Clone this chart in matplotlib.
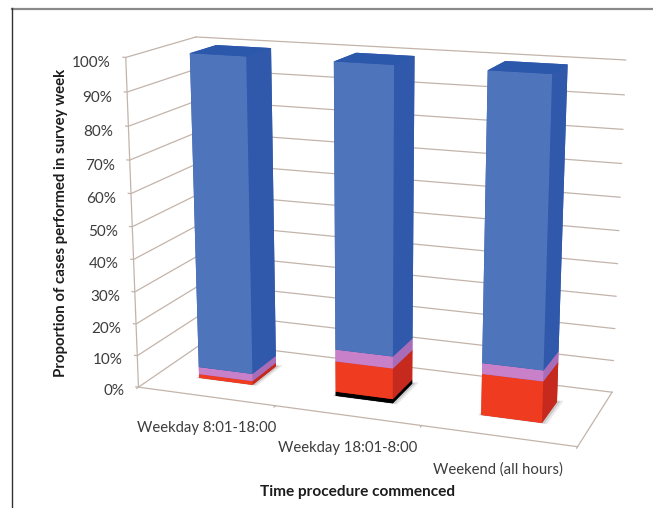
import numpy as np
import matplotlib
matplotlib.use("Agg")
import matplotlib.pyplot as plt
from mpl_toolkits.mplot3d import proj3d
from mpl_toolkits.mplot3d.art3d import Poly3DCollection

plt.rcParams['font.family'] = ['Lato', 'DejaVu Sans']

categories = ['Weekday 8:01-18:00', 'Weekday 18:01-8:00', 'Weekend (all hours)']
black_vals = [0, 1.3, 0]
red_vals = [1.2, 9.5, 12.5]
pink_vals = [2.3, 3.7, 3.3]
blue_vals = [96.5, 85.5, 84.2]
pct_ticks = [0, 10, 20, 30, 40, 50, 60, 70, 80, 90, 100]

W, H = 653, 508
GRID = '#c2b4ab'
TXT = '#3c3c3c'

# camera was fitted against the plot box corners of the reference
cx, cy, size = 366.69, 236.45, 577.34
fig = plt.figure(figsize=(W/100, H/100), dpi=100)
ax = fig.add_axes([(cx-size/2)/W, 1-(cy+size/2)/H, size/W, size/H], projection='3d')
ax.set_xlim(0, 3)
ax.set_ylim(0, 1)
ax.set_zlim(0, 100)
ax.set_box_aspect((3, 1.003, 2.2227))
ax.view_init(elev=14.70, azim=-69.91, roll=-0.05)
ax.set_proj_type('persp', focal_length=0.5149)
ax.set_xticks([])
ax.set_yticks([])
ax.set_zticks([])
ax.set_axis_off()
ax.patch.set_alpha(0)
ax.computed_zorder = False


def label_at(x, y, z, s, **kw):
    # place a flat label at a data position of the 3d box
    u, v, _ = proj3d.proj_transform(x, y, z, ax.get_proj())
    ax.text2D(u, v, s, transform=ax.transData, **kw)


# walls and floor lines
for v in pct_ticks:
    ax.plot([-0.02, 0, 0], [0, 0, 1], [v, v, v], color=GRID, lw=0.9, zorder=1)
    ax.plot([0, 3], [1, 1], [v, v], color=GRID, lw=0.9, zorder=1)
    label_at(-0.11, 0, v - 2.0, f'{v}%', ha='right', va='center', fontsize=11, color=TXT)
ax.plot([0, 0], [0, 0], [0, 100], color=GRID, lw=0.9, zorder=1)
ax.plot([0, 3, 3], [0, 0, 1], [0, 0, 0], color=GRID, lw=0.9, zorder=1)
for i in range(4):
    ax.plot([i, i], [0, -0.025], [0, 0], color=GRID, lw=0.9, zorder=1)

bar_w = 0.3994
bar_d = 0.3923
x0 = np.arange(3) + 0.5 - bar_w/2
y0 = 0.5 - bar_d/2

# soft shadow on the floor round each bar
for x in x0:
    for grow, alpha in [(0.035, 0.12), (0.018, 0.2)]:
        xa, xb = x - grow*0.5, x + bar_w + grow
        ya, yb = y0 - grow*0.3, y0 + bar_d + grow
        ax.add_collection3d(Poly3DCollection(
            [[(xa, ya, 0), (xb, ya, 0), (xb, yb, 0), (xa, yb, 0)]],
            facecolor='#4a4a4a', edgecolor='none', alpha=alpha, zorder=2))

# face order in bar3d is bottom, top, front, back, left, right
series = [
    (black_vals, ['#000000', '#000000', '#000000', '#000000', '#000000', '#000000']),
    (red_vals, ['#c9281c', '#c9281c', '#ef3b20', '#c9281c', '#c9281c', '#c62a1f']),
    (pink_vals, ['#a568b6', '#a568b6', '#c880c8', '#a568b6', '#a568b6', '#a86cb8']),
    (blue_vals, ['#2c58ac', '#2c58ac', '#4e74bc', '#2f57aa', '#2f57aa', '#3059ab']),
]
base = np.zeros(3)
for vals, cols in series:
    vals = np.array(vals, float)
    for k in range(3):
        if vals[k] > 0:
            ax.bar3d(x0[k], y0, base[k], bar_w, bar_d, vals[k], color=cols,
                     shade=False, edgecolor='none', linewidth=0, zorder=3 + base[k]/100)
    base += vals

for k, name in enumerate(categories):
    label_at(k + 0.5, 0, -10, name, ha='center', va='center', fontsize=10.7, color=TXT)

fig.text(61/W, 1-223/H, 'Proportion of cases performed in survey week', rotation=90,
         ha='center', va='center', fontsize=10.8, fontweight='bold', color='#1c1c1c')
fig.text(358/W, 1-492/H, 'Time procedure commenced', ha='center', va='center',
         fontsize=11.1, fontweight='bold', color='#1c1c1c')

# frame of the page figure
fig.add_artist(plt.Line2D([11.5/W, 653/W], [1-8.5/H, 1-8.5/H], color='#8a8a8a', lw=1.6))
fig.add_artist(plt.Line2D([11.5/W, 11.5/W], [1-8/H, 0], color='#333333', lw=1.0))

fig.savefig('out.png', dpi=100)
